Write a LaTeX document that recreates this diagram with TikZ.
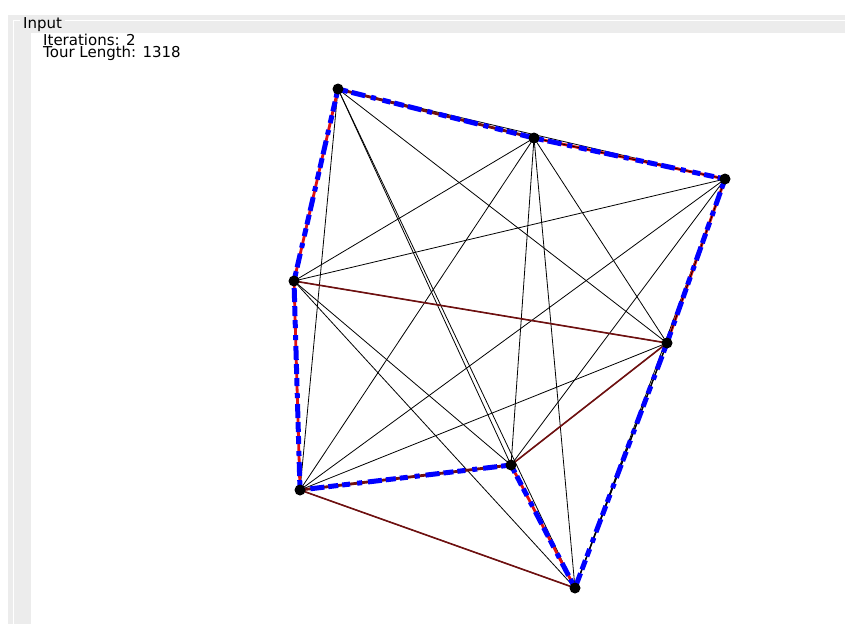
\documentclass[tikz,border=0pt]{standalone}
\usepackage{fontspec}
\setmainfont{DejaVu Sans}
\usetikzlibrary{backgrounds}
\definecolor{panel}{HTML}{ECECEC}
\definecolor{tourred}{HTML}{E01010}
\definecolor{maroon}{HTML}{701010}

\begin{document}
\begin{tikzpicture}[
  x=1pt, y=-1pt,
  font=\fontsize{15}{15}\selectfont,
  city/.style={circle, fill=black, inner sep=0pt, minimum size=11pt},
  thin edge/.style={draw=black, line width=0.8pt},
  old edge/.style={draw=maroon, line width=1.6pt},
  tour/.style={line width=2.8pt},
  dashes/.style={draw=blue, line width=5pt,
                 dash pattern=on 10pt off 4pt on 14pt off 6pt on 5pt off 7pt on 8pt off 4pt},
  lbl/.style={anchor=base west, inner sep=0pt}
]
\useasboundingbox (0,0) rectangle (845,624);

% cities
\node[city] (a) at (338,89)  {};
\node[city] (b) at (534,138) {};
\node[city] (c) at (725,179) {};
\node[city] (d) at (294,281) {};
\node[city] (e) at (667,343) {};
\node[city] (f) at (511,465) {};
\node[city] (g) at (300,490) {};
\node[city] (h) at (575,588) {};

\begin{scope}[on background layer]
% window frame
\fill[white] (0,0) rectangle (845,624);
\fill[panel] (8,15) rectangle (845,624);
\fill[white] (31,33) rectangle (845,624);
\draw[white, line width=1.5pt] (13.5,624) -- (13.5,20.5) -- (20,20.5);
\draw[white, line width=1.5pt] (65,20.5) -- (845,20.5);

% all pairs
\foreach \u/\vlist in {a/{b,c,d,e,f,g,h}, b/{c,d,e,f,g,h}, c/{d,e,f,g,h},
                       d/{e,f,g,h}, e/{f,g,h}, f/{g,h}, g/{h}}
  \foreach \v in \vlist
    \draw[thin edge] (\u.center) -- (\v.center);

% previous tour
\draw[old edge] (d.center) -- (e.center);
\draw[old edge] (e.center) -- (f.center);
\draw[old edge] (g.center) -- (h.center);

% current tour
\draw[tour, tourred] (a.center) -- (d.center);
\draw[tour, tourred] (d.center) -- (g.center);
\draw[tour, tourred] (f.center) -- (h.center);
\draw[tour, tourred] (b.center) -- (c.center);
\draw[tour, tourred] (c.center) -- (e.center);
\draw[tour, maroon]  (a.center) -- (b.center);
\draw[tour, maroon]  (g.center) -- (f.center);
\draw[tour, black, line width=1.4pt] (e.center) -- (h.center);
\draw[black, line width=0.8pt] (b.center) -- (c.center) -- (e.center);

\foreach \u/\v in {a/b, b/c, c/e, e/h, h/f, f/g, g/d, d/a}
  \draw[dashes] (\u.center) -- (\v.center);
\end{scope}

\node[lbl] (title) at (23,28) {Input};
\node[lbl] (iter) at (43,45) {Iterations: 2};
\node[lbl] (len)  at (43,57) {Tour Length: 1318};
\end{tikzpicture}
\end{document}
